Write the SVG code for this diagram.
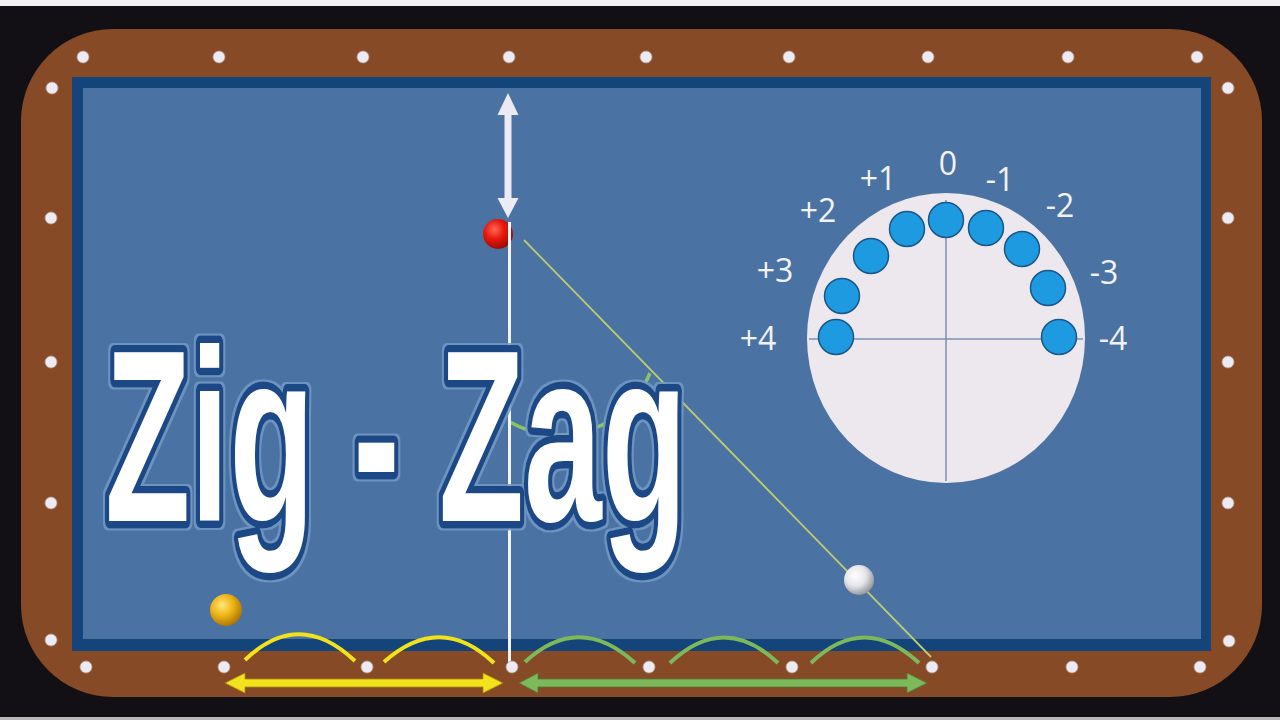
<svg xmlns="http://www.w3.org/2000/svg" width="1280" height="720" viewBox="0 0 1280 720">
  <defs>
    <radialGradient id="gRed" cx="0.38" cy="0.35" r="0.7">
      <stop offset="0" stop-color="#ff6a55"/>
      <stop offset="0.45" stop-color="#e81a10"/>
      <stop offset="1" stop-color="#9a0800"/>
    </radialGradient>
    <radialGradient id="gYel" cx="0.38" cy="0.35" r="0.7">
      <stop offset="0" stop-color="#ffe680"/>
      <stop offset="0.45" stop-color="#f0b818"/>
      <stop offset="1" stop-color="#a87000"/>
    </radialGradient>
    <radialGradient id="gWht" cx="0.38" cy="0.35" r="0.7">
      <stop offset="0" stop-color="#ffffff"/>
      <stop offset="0.5" stop-color="#e6e6ea"/>
      <stop offset="1" stop-color="#8e9098"/>
    </radialGradient>
    <filter id="halo" x="-5%" y="-10%" width="110%" height="120%">
      <feMorphology in="SourceAlpha" operator="dilate" radius="2" result="d"/>
      <feFlood flood-color="#7399c6" flood-opacity="0.85"/>
      <feComposite in2="d" operator="in" result="h"/>
      <feMerge>
        <feMergeNode in="h"/>
        <feMergeNode in="SourceGraphic"/>
      </feMerge>
    </filter>
    <style>
      .dia { fill: #ecebf3; stroke: #b79a86; stroke-width: 0.8; }
      .yarc { fill: none; stroke: #f2e21c; stroke-width: 4; stroke-linecap: butt; }
      .garc { fill: none; stroke: #7db85b; stroke-width: 4; stroke-linecap: butt; }
      .spot { fill: #1d9ae0; stroke: #1b5789; stroke-width: 1.5; }
      .lbl { font-family: "Open Sans", "Liberation Sans", sans-serif; font-size: 32px; fill: #f2f2f6; text-anchor: middle; }
      .big { font-family: "Liberation Sans", Arial, sans-serif; font-weight: bold; font-size: 246px; fill: #ffffff; stroke: #1c4a86; stroke-width: 12; paint-order: stroke; stroke-linejoin: round; }
    </style>
  </defs>

  <!-- background -->
  <rect x="0" y="0" width="1280" height="720" fill="#131015"/>
  <rect x="0" y="0" width="1280" height="6" fill="#f2f2f2"/>
  <rect x="0" y="717" width="1280" height="3" fill="#b8b8b8"/>

  <!-- table -->
  <g id="table">
    <rect x="21" y="29" width="1241" height="668" rx="92" ry="92" fill="#874a27"/>
    <rect x="72" y="77" width="1139" height="574" fill="#13447a"/>
    <rect x="83" y="88" width="1118" height="551" fill="#4a72a2"/>
  </g>

  <!-- diamonds -->
  <g id="diamonds">
    <circle class="dia" cx="83" cy="57" r="6"/>
    <circle class="dia" cx="219" cy="57" r="6"/>
    <circle class="dia" cx="363" cy="57" r="6"/>
    <circle class="dia" cx="509" cy="57" r="6"/>
    <circle class="dia" cx="646" cy="57" r="6"/>
    <circle class="dia" cx="789" cy="57" r="6"/>
    <circle class="dia" cx="928" cy="57" r="6"/>
    <circle class="dia" cx="1068" cy="57" r="6"/>
    <circle class="dia" cx="1197" cy="57" r="6"/>
    <circle class="dia" cx="52" cy="88" r="6"/>
    <circle class="dia" cx="51" cy="218" r="6"/>
    <circle class="dia" cx="51" cy="362" r="6"/>
    <circle class="dia" cx="51" cy="503" r="6"/>
    <circle class="dia" cx="51" cy="640" r="6"/>
    <circle class="dia" cx="1228" cy="88" r="6"/>
    <circle class="dia" cx="1228" cy="218" r="6"/>
    <circle class="dia" cx="1228" cy="362" r="6"/>
    <circle class="dia" cx="1228" cy="503" r="6"/>
    <circle class="dia" cx="1229" cy="641" r="6"/>
    <circle class="dia" cx="86" cy="667" r="6"/>
    <circle class="dia" cx="224" cy="667" r="6"/>
    <circle class="dia" cx="367" cy="667" r="6"/>
    <circle class="dia" cx="649" cy="667" r="6"/>
    <circle class="dia" cx="792" cy="667" r="6"/>
    <circle class="dia" cx="1072" cy="667" r="6"/>
    <circle class="dia" cx="1200" cy="667" r="6"/>
  </g>

  <!-- spin diagram -->
  <g id="spin-diagram">
    <ellipse cx="946" cy="338" rx="139" ry="145" fill="#ece8ee"/>
    <line x1="809" y1="339" x2="1083" y2="339" stroke="#7790b0" stroke-width="1.5"/>
    <line x1="946" y1="200" x2="946" y2="481" stroke="#7790b0" stroke-width="1.5"/>
    <circle class="spot" cx="946" cy="220" r="17.5"/>
    <circle class="spot" cx="986" cy="228" r="17.5"/>
    <circle class="spot" cx="1022" cy="249" r="17.5"/>
    <circle class="spot" cx="1048" cy="288" r="17.5"/>
    <circle class="spot" cx="1059" cy="337" r="17.5"/>
    <circle class="spot" cx="907" cy="229" r="17.5"/>
    <circle class="spot" cx="871" cy="256" r="17.5"/>
    <circle class="spot" cx="842" cy="296" r="17.5"/>
    <circle class="spot" cx="836" cy="337" r="17.5"/>
    <text class="lbl" x="948" y="175">0</text>
    <text class="lbl" x="878" y="190">+1</text>
    <text class="lbl" x="1000" y="191">-1</text>
    <text class="lbl" x="818" y="222">+2</text>
    <text class="lbl" x="1060" y="217">-2</text>
    <text class="lbl" x="775" y="282">+3</text>
    <text class="lbl" x="1104" y="284">-3</text>
    <text class="lbl" x="758" y="350">+4</text>
    <text class="lbl" x="1113" y="350">-4</text>
  </g>

  <!-- angle marker and aim line -->
  <g id="lines">
    <path d="M510,422 A98,98 0 0 0 650,373" fill="none" stroke="#8cc464" stroke-width="3.5"/>
    <line x1="524" y1="240" x2="931" y2="657" stroke="#bccb70" stroke-width="1.8"/>
    <line x1="509.5" y1="222" x2="509.5" y2="662" stroke="#f4f4f8" stroke-width="3"/>
    <polygon points="508,93 518.5,115 511.5,115 511.5,198 518.5,198 508,218 497.5,198 504.5,198 504.5,115 497.5,115" fill="#eceaf2"/>
  </g>

  <!-- big title -->
  <g id="title" filter="url(#halo)">
    <text class="big" transform="translate(105,521) scale(0.568,1)" x="0" y="0" vector-effect="non-scaling-stroke">Zig - Zag</text>
  </g>

  <!-- balls -->
  <g id="balls">
    <circle cx="498" cy="234" r="15" fill="url(#gRed)"/>
    <circle cx="226" cy="610" r="16" fill="url(#gYel)"/>
    <circle cx="859" cy="580" r="15" fill="url(#gWht)"/>
  </g>
  <line x1="509.5" y1="222" x2="509.5" y2="250" stroke="#f4f4f8" stroke-width="3"/>

  <!-- bottom arcs and arrows -->
  <g id="track">
    <path class="yarc" d="M245,660 Q299,608 355,661"/>
    <path class="yarc" d="M384,662 Q440,612 494,663"/>
    <path class="garc" d="M525,662 Q579,612 635,663"/>
    <path class="garc" d="M670,663 Q724,612 778,663"/>
    <path class="garc" d="M811,663 Q864,612 919,663"/>
    <polygon points="225,683 245,673 245,679 483,679 483,673 503,683 483,693 483,687 245,687 245,693" fill="#f2e21c" stroke="#a88a10" stroke-width="0.8"/>
    <polygon points="519,683 538,673 538,679 907,679 907,673 927,683 907,693 907,687 538,687 538,693" fill="#7db85b" stroke="#4f7a36" stroke-width="0.8"/>
    <circle class="dia" cx="512" cy="667" r="6"/>
    <circle class="dia" cx="932" cy="667" r="6"/>
  </g>
</svg>
